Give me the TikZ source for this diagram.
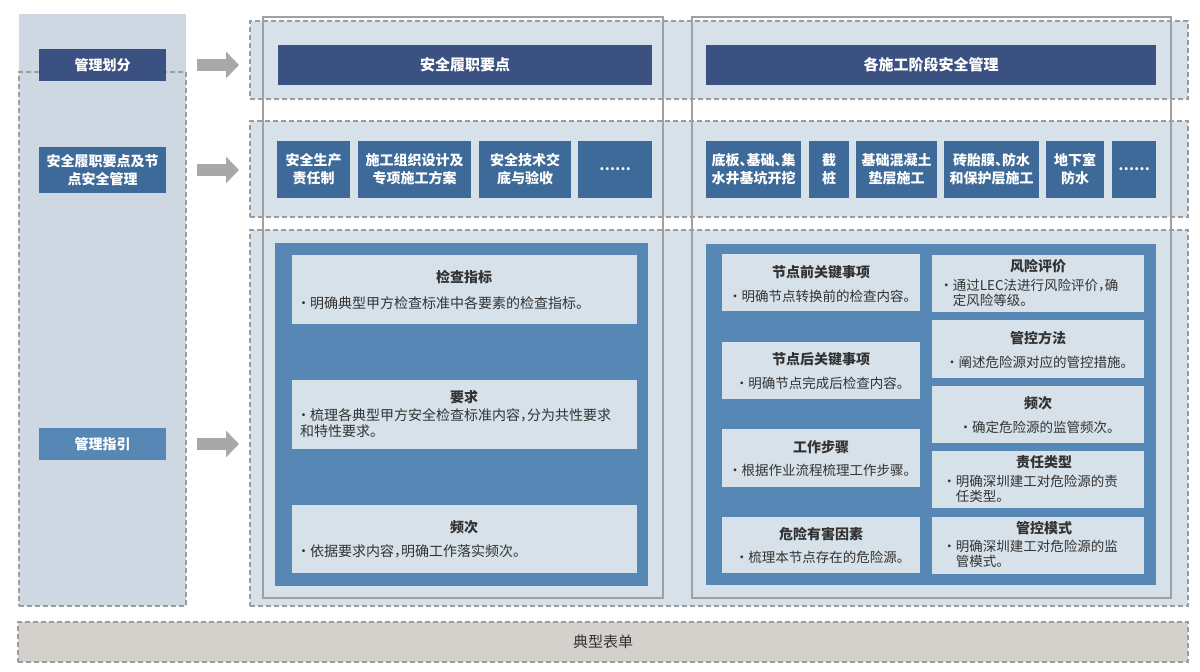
\documentclass[tikz,border=0pt]{standalone}
\usepackage{fontspec}
\setmainfont{Noto Sans CJK SC}[RawFeature=+halt]
\usetikzlibrary{arrows.meta}
\definecolor{colfill}{HTML}{CDD8E3}
\definecolor{rowfill}{HTML}{D6E1E9}
\definecolor{boxfill}{HTML}{D6E1E9}
\definecolor{navy}{HTML}{3B5181}
\definecolor{midblue}{HTML}{3D6A99}
\definecolor{lightblue}{HTML}{5687B5}
\definecolor{dashgray}{HTML}{9C9C9C}
\definecolor{panelgray}{HTML}{A0A0A0}
\definecolor{arrowgray}{HTML}{A8A8A8}
\definecolor{barfill}{HTML}{D4D1CD}
\definecolor{txt}{HTML}{333333}
\newcommand\rbox[6]{\node[#2, minimum width={#5-#3}, minimum height={#6-#4}] (#1) at ({(#3+#5)/2},{(#4+#6)/2})}
\begin{document}
\begin{tikzpicture}[x=1pt,y=-1pt,
  every node/.style={inner sep=0pt, outer sep=0pt},
  dashes/.style={draw=dashgray, line width=1.3pt, dash pattern=on 5pt off 3pt},
  dashbox/.style={dashes, fill=rowfill},
  panel/.style={draw=panelgray, line width=1.2pt},
  navybox/.style={fill=navy, text=white, align=center, font=\bfseries\fontsize{14}{18}\selectfont},
  midbox/.style={fill=midblue, text=white, align=center, font=\bfseries\fontsize{14}{18}\selectfont},
  lbox/.style={fill=lightblue, text=white, align=center, font=\bfseries\fontsize{14}{18}\selectfont},
  tbox/.style={fill=boxfill},
  ttl/.style={text=txt, font=\bfseries\fontsize{14}{17}\selectfont},
  dsc/.style={text=txt, align=left, font=\fontsize{14}{16}\selectfont},
  dscs/.style={text=txt, align=left, font=\fontsize{13.5}{15.5}\selectfont},
  bigarrow/.style={draw=arrowgray, line width=12pt, -{Triangle[length=13pt, width=26pt]}}
]
\useasboundingbox (0,0) rectangle (1200,672);
% left column
\rbox{lcol}{fill=colfill}{19}{14}{186}{606}{};
\rbox{lcold}{dashes}{19}{72}{186}{606}{};
% rows
\rbox{row1}{dashbox}{250}{21}{1188}{99}{};
\rbox{row2}{dashbox}{250}{121}{1188}{217}{};
\rbox{row3}{dashbox}{250}{230}{1188}{606}{};
% bottom bar
\rbox{bar}{dashes, fill=barfill, text=txt, font=\fontsize{15}{18}\selectfont}{18}{622}{1188}{662}{典型表单};
% panels
\rbox{pl}{panel}{263}{17}{663}{598}{};
\rbox{pr}{panel}{692}{17}{1171}{598}{};
% left labels
\rbox{k1}{navybox}{39}{49}{166}{81}{管理划分};
\rbox{k2}{midbox}{39}{147}{166}{193}{安全履职要点及节\\点安全管理};
\rbox{k3}{lbox}{39}{428}{166}{460}{管理指引};
% arrows
\draw[bigarrow] ([xshift=31pt]k1.east) -- ([xshift=73pt]k1.east);
\draw[bigarrow] ([xshift=31pt]k2.east) -- ([xshift=73pt]k2.east);
\draw[bigarrow] ([xshift=31pt]k3.east) -- ([xshift=73pt]k3.east);
% top bars
\rbox{t1}{navybox, font=\bfseries\fontsize{15}{18}\selectfont}{278}{45}{652}{85}{安全履职要点};
\rbox{t2}{navybox, font=\bfseries\fontsize{15}{18}\selectfont}{706}{45}{1156}{85}{各施工阶段安全管理};
% row 2 boxes
\rbox{a1}{midbox}{277}{141}{350}{198}{安全生产\\责任制};
\rbox{a2}{midbox}{358}{141}{471}{198}{施工组织设计及\\专项施工方案};
\rbox{a3}{midbox}{479}{141}{571}{198}{安全技术交\\底与验收};
\rbox{a4}{midbox}{578}{141}{652}{198}{……};
\rbox{b1}{midbox}{706}{141}{801}{198}{底板、基础、集\\水井基坑开挖};
\rbox{b2}{midbox}{809}{141}{849}{198}{截\\桩};
\rbox{b3}{midbox}{856}{141}{937}{198}{基础混凝土\\垫层施工};
\rbox{b4}{midbox}{944}{141}{1039}{198}{砖胎膜、防水\\和保护层施工};
\rbox{b5}{midbox}{1046}{141}{1104}{198}{地下室\\防水};
\rbox{b6}{midbox}{1112}{141}{1156}{198}{……};
% inner blue panels
\rbox{bl}{fill=lightblue}{275}{243}{648}{586}{};
\rbox{br}{fill=lightblue}{706}{244}{1156}{585}{};
% left inner boxes
\rbox{i1}{tbox}{292}{255}{637}{324}{};
\rbox{i2}{tbox}{292}{380}{637}{449}{};
\rbox{i3}{tbox}{292}{505}{637}{573}{};
\node[ttl] (i1t) at (464,277) {检查指标};
\node[dsc, anchor=west] (i1d) at (300,303) {· 明确典型甲方检查标准中各要素的检查指标。};
\node[ttl] (i2t) at (464,397) {要求};
\node[dsc, anchor=north west, font=\fontsize{14}{16}\selectfont] (i2d) at (300,409) {· 梳理各典型甲方安全检查标准内容，分为共性要求\\和特性要求。};
\node[ttl] (i3t) at (464,527) {频次};
\node[dsc, anchor=west] (i3d) at (300,551) {· 依据要求内容，明确工作落实频次。};
% right inner boxes, left column
\rbox{r1}{tbox}{722}{254}{920}{311}{};
\rbox{r2}{tbox}{722}{342}{920}{399}{};
\rbox{r3}{tbox}{722}{429}{920}{487}{};
\rbox{r4}{tbox}{722}{517}{920}{573}{};
\node[ttl] (r1t) at (821,272) {节点前关键事项};
\node[dscs] (r1d) at (821,296) {· 明确节点转换前的检查内容。};
\node[ttl] (r2t) at (821,359) {节点后关键事项};
\node[dscs] (r2d) at (821,383) {· 明确节点完成后检查内容。};
\node[ttl] (r3t) at (821,447) {工作步骤};
\node[dscs] (r3d) at (821,470) {· 根据作业流程梳理工作步骤。};
\node[ttl] (r4t) at (821,534) {危险有害因素};
\node[dscs] (r4d) at (821,557) {· 梳理本节点存在的危险源。};
% right inner boxes, right column
\rbox{s1}{tbox}{932}{255}{1144}{312}{};
\rbox{s2}{tbox}{932}{320}{1144}{378}{};
\rbox{s3}{tbox}{932}{386}{1144}{443}{};
\rbox{s4}{tbox}{932}{451}{1144}{508}{};
\rbox{s5}{tbox}{932}{517}{1144}{574}{};
\node[ttl] (s1t) at (1038,266) {风险评价};
\node[dscs, anchor=north west] (s1d) at (943,279) {· 通过LEC法进行风险评价，确\\\phantom{· }定风险等级。};
\node[ttl] (s2t) at (1038,338) {管控方法};
\node[dscs] (s2d) at (1038,362) {· 阐述危险源对应的管控措施。};
\node[ttl] (s3t) at (1038,403) {频次};
\node[dscs] (s3d) at (1038,427) {· 确定危险源的监管频次。};
\node[ttl] (s4t) at (1044,462) {责任类型};
\node[dscs, anchor=north west] (s4d) at (946,475) {· 明确深圳建工对危险源的责\\\phantom{· }任类型。};
\node[ttl] (s5t) at (1044,528) {管控模式};
\node[dscs, anchor=north west] (s5d) at (946,540) {· 明确深圳建工对危险源的监\\\phantom{· }管模式。};
\end{tikzpicture}
\end{document}
